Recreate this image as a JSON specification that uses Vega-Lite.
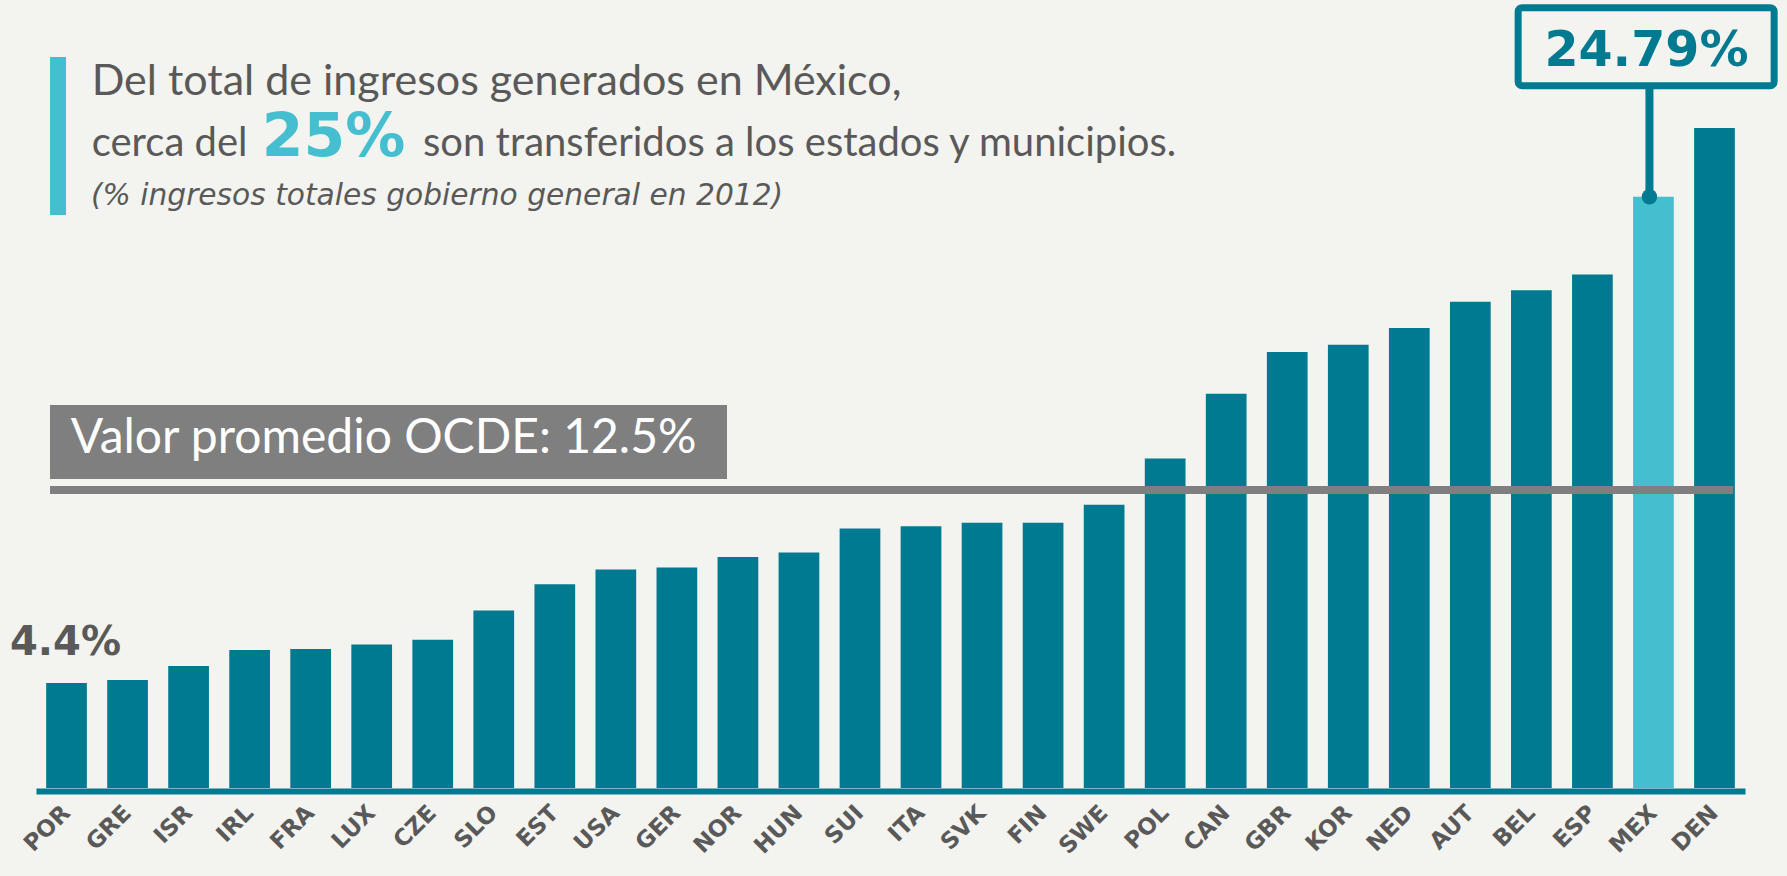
{
  "$schema": "https://vega.github.io/schema/vega-lite/v6.json",
  "width": 1709,
  "height": 787,
  "autosize": {"type": "none"},
  "padding": {"left": 36, "top": 1, "right": 42, "bottom": 88},
  "background": "#f3f3ef",
  "config": {"view": {"stroke": null}},
  "data": {
    "values": [
      {"country": "POR", "value": 4.4},
      {"country": "GRE", "value": 4.53},
      {"country": "ISR", "value": 5.12},
      {"country": "IRL", "value": 5.79},
      {"country": "FRA", "value": 5.83},
      {"country": "LUX", "value": 6.02},
      {"country": "CZE", "value": 6.22},
      {"country": "SLO", "value": 7.44},
      {"country": "EST", "value": 8.54},
      {"country": "USA", "value": 9.16},
      {"country": "GER", "value": 9.25},
      {"country": "NOR", "value": 9.69},
      {"country": "HUN", "value": 9.87},
      {"country": "SUI", "value": 10.88},
      {"country": "ITA", "value": 10.98},
      {"country": "SVK", "value": 11.12},
      {"country": "FIN", "value": 11.12},
      {"country": "SWE", "value": 11.88},
      {"country": "POL", "value": 13.82},
      {"country": "CAN", "value": 16.53},
      {"country": "GBR", "value": 18.28},
      {"country": "KOR", "value": 18.59},
      {"country": "NED", "value": 19.29},
      {"country": "AUT", "value": 20.39},
      {"country": "BEL", "value": 20.87},
      {"country": "ESP", "value": 21.53},
      {"country": "MEX", "value": 24.79},
      {"country": "DEN", "value": 27.67}
    ]
  },
  "layer": [
    {
      "mark": {"type": "bar"},
      "encoding": {
        "x": {
          "field": "country",
          "type": "nominal",
          "sort": null,
          "scale": {
            "domain": ["POR","GRE","ISR","IRL","FRA","LUX","CZE","SLO","EST","USA","GER","NOR","HUN","SUI","ITA","SVK","FIN","SWE","POL","CAN","GBR","KOR","NED","AUT","BEL","ESP","MEX","DEN"],
            "paddingInner": 0.333,
            "paddingOuter": 0.1665
          },
          "axis": {
            "title": null,
            "domainColor": "#007A91",
            "domainWidth": 6,
            "offset": 3,
            "ticks": false,
            "labelAngle": -45,
            "labelAlign": "right",
            "labelBaseline": "middle",
            "labelPadding": 18,
            "labelFont": "DejaVu Sans",
            "labelFontWeight": "bold",
            "labelFontSize": 23,
            "labelColor": "#595959",
            "grid": false
          }
        },
        "y": {
          "field": "value",
          "type": "quantitative",
          "scale": {"domain": [0, 33], "nice": false, "zero": true},
          "axis": null
        },
        "color": {
          "condition": {"test": "datum.country === 'MEX'", "value": "#45BFCF"},
          "value": "#007A91"
        }
      }
    },
    {
      "data": {"values": [{}]},
      "mark": {"type": "rule", "color": "#7F7F7F", "strokeWidth": 8, "xOffset": -16.5, "x2Offset": 18.7},
      "encoding": {
        "x": {"datum": "POR", "type": "nominal"},
        "x2": {"datum": "DEN"},
        "y": {"datum": 12.5, "type": "quantitative"}
      }
    },
    {
      "data": {"values": [{}]},
      "mark": {"type": "bar", "width": 677, "xOffset": 16.8, "color": "#7F7F7F"},
      "encoding": {
        "x": {"datum": "LUX", "type": "nominal"},
        "y": {"datum": 16.06, "type": "quantitative"},
        "y2": {"datum": 12.96}
      }
    },
    {
      "data": {"values": [{}]},
      "mark": {"type": "text", "text": "Valor promedio OCDE: 12.5%", "align": "left", "baseline": "alphabetic", "dx": 4.2, "font": "Lato", "fontSize": 48, "color": "#ffffff"},
      "encoding": {
        "x": {"datum": "POR", "type": "nominal"},
        "y": {"datum": 14.03, "type": "quantitative"}
      }
    },
    {
      "data": {"values": [{}]},
      "mark": {"type": "text", "text": "4.4%", "align": "left", "baseline": "alphabetic", "dx": -56.5, "font": "DejaVu Sans", "fontWeight": "bold", "fontSize": 40, "color": "#595959"},
      "encoding": {
        "x": {"datum": "POR", "type": "nominal"},
        "y": {"datum": 5.58, "type": "quantitative"}
      }
    },
    {
      "data": {"values": [{}]},
      "mark": {"type": "rule", "color": "#007A91", "strokeWidth": 8, "xOffset": -4},
      "encoding": {
        "x": {"datum": "MEX", "type": "nominal"},
        "y": {"datum": 24.79, "type": "quantitative"},
        "y2": {"datum": 29.45}
      }
    },
    {
      "data": {"values": [{}]},
      "mark": {"type": "circle", "size": 238, "opacity": 1, "color": "#007A91", "xOffset": -4},
      "encoding": {
        "x": {"datum": "MEX", "type": "nominal"},
        "y": {"datum": 24.79, "type": "quantitative"}
      }
    },
    {
      "data": {"values": [{}]},
      "mark": {"type": "bar", "width": 256, "xOffset": -7.3, "fill": "#f3f3ef", "stroke": "#007A91", "strokeWidth": 7, "cornerRadius": 4},
      "encoding": {
        "x": {"datum": "MEX", "type": "nominal"},
        "y": {"datum": 32.72, "type": "quantitative"},
        "y2": {"datum": 29.45}
      }
    },
    {
      "data": {"values": [{}]},
      "mark": {"type": "text", "text": "24.79%", "align": "center", "baseline": "alphabetic", "dx": -7, "font": "DejaVu Sans", "fontWeight": "bold", "fontSize": 49, "color": "#007A91"},
      "encoding": {
        "x": {"datum": "MEX", "type": "nominal"},
        "y": {"datum": 30.28, "type": "quantitative"}
      }
    },
    {
      "data": {"values": [{}]},
      "mark": {"type": "bar", "width": 16, "xOffset": -8.5, "color": "#45BFCF"},
      "encoding": {
        "x": {"datum": "POR", "type": "nominal"},
        "y": {"datum": 30.65, "type": "quantitative"},
        "y2": {"datum": 24.03}
      }
    },
    {
      "data": {"values": [{}]},
      "mark": {"type": "text", "text": "Del total de ingresos generados en México,", "align": "left", "baseline": "alphabetic", "dx": 25.2, "font": "Lato", "fontSize": 43, "color": "#595959"},
      "encoding": {
        "x": {"datum": "POR", "type": "nominal"},
        "y": {"datum": 29.06, "type": "quantitative"}
      }
    },
    {
      "data": {"values": [{}]},
      "mark": {"type": "text", "text": "cerca del", "align": "left", "baseline": "alphabetic", "dx": 25.2, "font": "Lato", "fontSize": 40, "color": "#595959"},
      "encoding": {
        "x": {"datum": "POR", "type": "nominal"},
        "y": {"datum": 26.48, "type": "quantitative"}
      }
    },
    {
      "data": {"values": [{}]},
      "mark": {"type": "text", "text": "25%", "align": "left", "baseline": "alphabetic", "dx": 195.2, "font": "DejaVu Sans", "fontWeight": "bold", "fontSize": 60, "color": "#45BFCF"},
      "encoding": {
        "x": {"datum": "POR", "type": "nominal"},
        "y": {"datum": 26.48, "type": "quantitative"}
      }
    },
    {
      "data": {"values": [{}]},
      "mark": {"type": "text", "text": "son transferidos a los estados y municipios.", "align": "left", "baseline": "alphabetic", "dx": 356.5, "font": "Lato", "fontSize": 40, "color": "#595959"},
      "encoding": {
        "x": {"datum": "POR", "type": "nominal"},
        "y": {"datum": 26.48, "type": "quantitative"}
      }
    },
    {
      "data": {"values": [{}]},
      "mark": {"type": "text", "text": "(% ingresos totales gobierno general en 2012)", "align": "left", "baseline": "alphabetic", "dx": 24.5, "font": "DejaVu Sans", "fontStyle": "italic", "fontSize": 29.7, "color": "#595959"},
      "encoding": {
        "x": {"datum": "POR", "type": "nominal"},
        "y": {"datum": 24.44, "type": "quantitative"}
      }
    }
  ]
}
